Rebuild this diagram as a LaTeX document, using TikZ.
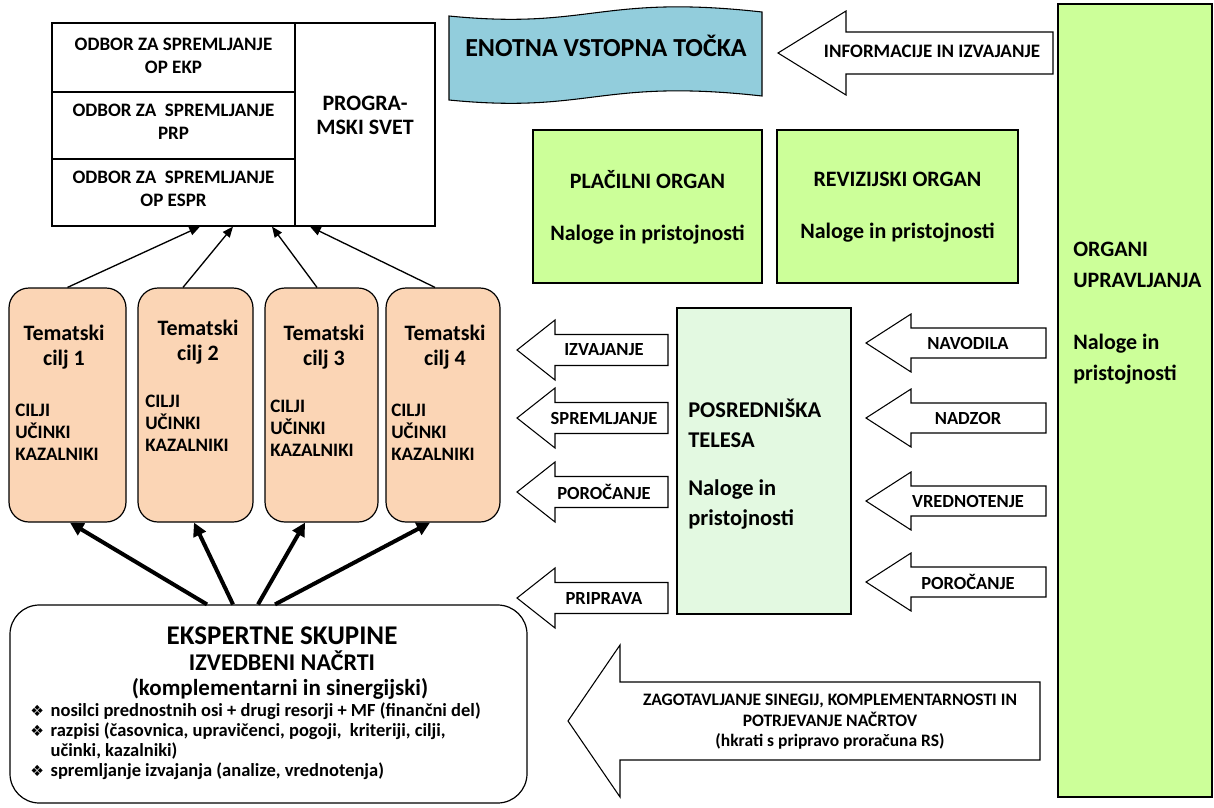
\documentclass[tikz,border=0pt]{standalone}
\usepackage{fontspec}
\setmainfont{Carlito}
\newfontfamily\dejavu{DejaVu Sans}
\usetikzlibrary{arrows.meta,fit,calc}
\definecolor{aqua}{HTML}{92CDDC}
\definecolor{lgreen}{HTML}{CCFF99}
\definecolor{mint}{HTML}{E3F9E1}
\definecolor{peach}{HTML}{FBD5B5}
\newcommand\fsz[2]{\fontsize{\dimexpr #1pt*3/4\relax}{\dimexpr #2pt*3/4\relax}\selectfont}
\newcommand\bul{{\dejavu\fontsize{11.5pt}{12pt}\selectfont ❖}}
% left-pointing block arrow: tip x, y, head-base x, right x, head half-height, shaft half-height
\newcommand\blk[6]{\draw[barrow] (#1,#2) -- (#3,#2-#5) -- (#3,#2-#6) -- (#4,#2-#6) -- (#4,#2+#6) -- (#3,#2+#6) -- (#3,#2+#5) -- cycle;}
\begin{document}
\begin{tikzpicture}[x=0.75pt,y=-0.75pt,
  box/.style={draw=black, line width=0.9pt, inner sep=0pt},
  txt/.style={font=\bfseries, inner sep=0pt, align=center},
  barrow/.style={draw=black, line width=0.8pt, fill=white, line join=miter},
  thinarr/.style={line width=1pt, -{Triangle[length=8pt,width=6.5pt]}},
  thickarr/.style={line width=3pt, -{Triangle[length=10pt,width=10pt]}},
]
\useasboundingbox (0,0) rectangle (1214,807);
\fill[white] (0,0) rectangle (1214,807);

% ---- top-left committee box
\node[box, fill=white, fit={(52,23)(435,226)}] (tl) {};
\draw[line width=0.9pt] (295,23) -- (295,226) (52,92) -- (295,92) (52,159) -- (295,159);
\node[txt, font=\bfseries\fsz{19}{23}] (o1) at (173.5,56) {ODBOR ZA SPREMLJANJE\\OP EKP};
\node[txt, font=\bfseries\fsz{19}{23}] (o2) at (173.5,122) {ODBOR ZA\ \ SPREMLJANJE\\PRP};
\node[txt, font=\bfseries\fsz{19}{23}] (o3) at (173.5,189) {ODBOR ZA\ \ SPREMLJANJE\\OP ESPR};
\node[txt, font=\bfseries\fsz{22}{24}] (ps) at (365,115) {PROGRA-\\MSKI SVET};

% ---- banner
\draw[fill=aqua, line width=0.8pt] (449,16) .. controls (590,30) and (600,-6) .. (762,12) -- (762,96) .. controls (600,78) and (590,114) .. (449,100) -- cycle;
\node[txt, font=\bfseries\fsz{26}{30}] (evt) at (606,46) {ENOTNA VSTOPNA TOČKA};

% ---- info arrow
\blk{778}{53}{846}{1053}{42}{21}
\node[txt, font=\bfseries\fsz{19}{23}] (inf) at (932,51) {INFORMACIJE IN IZVAJANJE};

% ---- green boxes
\node[box, fill=lgreen, fit={(533,130)(762,283)}] (po) {};
\node[txt, font=\bfseries\fsz{22}{31}] (pot) at (647.5,207) {PLAČILNI ORGAN\\[16pt]Naloge in pristojnosti};
\node[box, fill=lgreen, fit={(777,130)(1018,283)}] (ro) {};
\node[txt, font=\bfseries\fsz{22}{31}] (rot) at (897.5,207) {REVIZIJSKI ORGAN\\[16pt]Naloge in pristojnosti};
\node[box, fill=lgreen, fit={(1058,4)(1212,797)}] (ou) {};
\node[txt, align=left, anchor=west, font=\bfseries\fsz{22}{31}] (out) at (1073,313) {ORGANI\\UPRAVLJANJA\\[23pt]Naloge in\\pristojnosti};

% ---- intermediate bodies
\node[box, fill=mint, fit={(677,308)(851,614)}] (pt) {};
\node[txt, align=left, anchor=west, font=\bfseries\fsz{22.5}{30}] (ptt) at (688,464.5) {POSREDNIŠKA\\TELESA\\[13.5pt]Naloge in\\pristojnosti};

% ---- left arrows
\blk{517}{350}{555}{668}{30}{15.5}
\blk{517}{418}{555}{668}{30}{15.5}
\blk{517}{492}{555}{668}{30}{15.5}
\blk{517}{598}{555}{668}{30}{15.5}
\node[txt, font=\bfseries\fsz{18.5}{22}] (la1) at (604,350) {IZVAJANJE};
\node[txt, font=\bfseries\fsz{18.5}{22}] (la2) at (604,418) {SPREMLJANJE};
\node[txt, font=\bfseries\fsz{18.5}{22}] (la3) at (604,492) {POROČANJE};
\node[txt, font=\bfseries\fsz{18.5}{22}] (la4) at (604,598) {PRIPRAVA};

% ---- right arrows
\blk{866}{343}{911}{1046}{29}{15}
\blk{866}{418}{911}{1046}{29}{15}
\blk{866}{501}{911}{1046}{29}{15}
\blk{866}{582}{911}{1046}{29}{15}
\node[txt, font=\bfseries\fsz{18.5}{22}] (ra1) at (968,343) {NAVODILA};
\node[txt, font=\bfseries\fsz{18.5}{22}] (ra2) at (968,418) {NADZOR};
\node[txt, font=\bfseries\fsz{18.5}{22}] (ra3) at (968,501) {VREDNOTENJE};
\node[txt, font=\bfseries\fsz{18.5}{22}] (ra4) at (968,582) {POROČANJE};

% ---- big bottom arrow
\blk{568}{721}{620}{1040}{76}{39}
\node[txt, font=\bfseries\fsz{17.5}{20.5}] (zag) at (830,722) {ZAGOTAVLJANJE SINEGIJ, KOMPLEMENTARNOSTI IN\\POTRJEVANJE NAČRTOV\\(hkrati s pripravo proračuna RS)};

% ---- thematic goals
\node[box, fill=peach, rounded corners=15pt, fit={(9,288)(126,522)}] (t1) {};
\node[box, fill=peach, rounded corners=15pt, fit={(138,288)(253,522)}] (t2) {};
\node[box, fill=peach, rounded corners=15pt, fit={(265,288)(378,522)}] (t3) {};
\node[box, fill=peach, rounded corners=15pt, fit={(386,288)(500,522)}] (t4) {};
\node[txt, font=\bfseries\fsz{22}{25}] (t1h) at (64,347) {Tematski\\cilj 1};
\node[txt, font=\bfseries\fsz{22}{25}] (t2h) at (198,342) {Tematski\\cilj 2};
\node[txt, font=\bfseries\fsz{22}{25}] (t3h) at (324,347) {Tematski\\cilj 3};
\node[txt, font=\bfseries\fsz{22}{25}] (t4h) at (445,347) {Tematski\\cilj 4};
\node[txt, align=left, anchor=west, font=\bfseries\fsz{19}{22}] (t1c) at (15,432) {CILJI\\UČINKI\\KAZALNIKI};
\node[txt, align=left, anchor=west, font=\bfseries\fsz{19}{22}] (t2c) at (145,423.5) {CILJI\\UČINKI\\KAZALNIKI};
\node[txt, align=left, anchor=west, font=\bfseries\fsz{19}{22}] (t3c) at (270,428) {CILJI\\UČINKI\\KAZALNIKI};
\node[txt, align=left, anchor=west, font=\bfseries\fsz{19}{22}] (t4c) at (391,432) {CILJI\\UČINKI\\KAZALNIKI};

% ---- expert groups
\node[box, fill=white, rounded corners=22pt, fit={(10,605)(527,803)}] (ek) {};
\node[txt, font=\bfseries\fsz{27}{30}] (ek1) at (282,636) {EKSPERTNE SKUPINE};
\node[txt, font=\bfseries\fsz{24}{27}] (ek2) at (282,661) {IZVEDBENI NAČRTI};
\node[txt, font=\bfseries\fsz{23}{26}] (ek3) at (280,689) {(komplementarni in sinergijski)};
\node[txt, align=left, anchor=west, font=\bfseries\fsz{18.5}{20}] (ekb) at (30,742) {%
\begin{tabular}{@{}l@{\hspace{5pt}}l@{}}
\bul & nosilci prednostnih osi + drugi resorji + MF (finančni del)\\
\bul & razpisi (časovnica, upravičenci, pogoji,\ \ kriteriji, cilji,\\
 & učinki, kazalniki)\\
\bul & spremljanje izvajanja (analize, vrednotenja)
\end{tabular}};

% ---- connectors
\draw[thinarr] (t1.north) -- ($(tl.south)+(-43.5,0)$);
\draw[thinarr] ($(t2.north)+(-12.5,0)$) -- ($(tl.south)+(-10.5,0)$);
\draw[thinarr] ($(t3.north)+(-4.5,0)$) -- ($(tl.south)+(28.5,0)$);
\draw[thinarr] ($(t4.north)+(-8,0)$) -- ($(tl.south)+(66.5,0)$);
\draw[thickarr] ($(ek.north)+(-61.5,0)$) -- ($(t1.south)+(2.5,0)$);
\draw[thickarr] ($(ek.north)+(-35.5,0)$) -- ($(t2.south)+(-1.5,0)$);
\draw[thickarr] ($(ek.north)+(-10.5,0)$) -- ($(t3.south)+(-16.5,0)$);
\draw[thickarr] ($(ek.north)+(6.5,0)$) -- ($(t4.south)+(-13,0)$);
\end{tikzpicture}
\end{document}
